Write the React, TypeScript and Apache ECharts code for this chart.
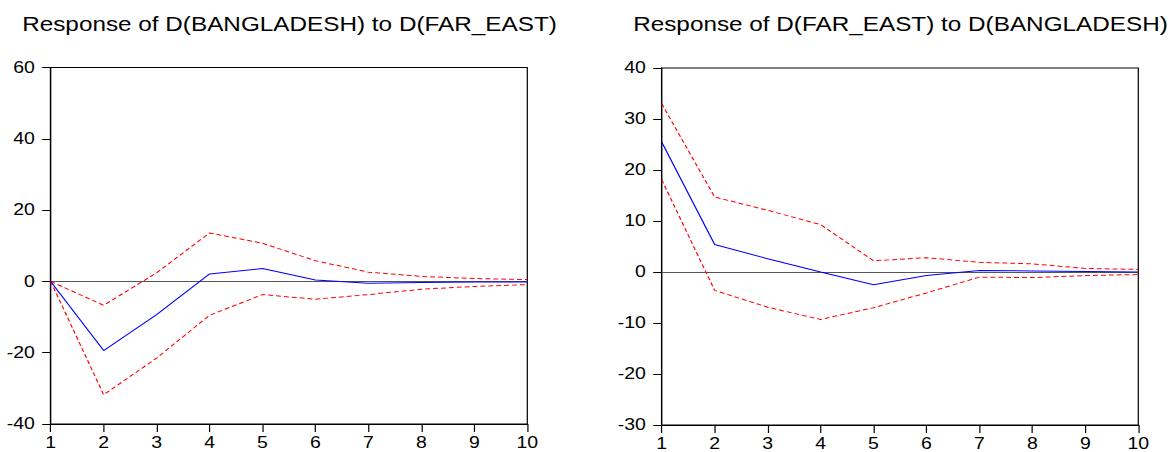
import React, { useEffect, useRef } from "react";
import * as echarts from "echarts";

const periods = [1, 2, 3, 4, 5, 6, 7, 8, 9, 10];

const leftTitle = "Response of D(BANGLADESH) to D(FAR_EAST)";
const leftResponse = [0, -19.4, -9.3, 2.1, 3.6, 0.4, -0.5, -0.3, -0.2, -0.2];
const leftUpper = [0, -6.7, 2.4, 13.6, 10.7, 5.8, 2.6, 1.4, 0.8, 0.5];
const leftLower = [0, -31.8, -21.5, -9.5, -3.7, -5.0, -3.7, -2.2, -1.4, -0.9];

const rightTitle = "Response of D(FAR_EAST) to D(BANGLADESH)";
const rightResponse = [25.5, 5.4, 2.6, 0.0, -2.5, -0.7, 0.3, 0.2, 0.1, 0.0];
const rightUpper = [33.0, 14.7, 12.1, 9.3, 2.2, 2.8, 1.9, 1.6, 0.7, 0.5];
const rightLower = [18.1, -3.6, -6.9, -9.3, -7.0, -4.1, -1.0, -1.1, -0.7, -0.5];

const FONT = "Arial, 'Liberation Sans', sans-serif";
// The reference is horizontally stretched; draw narrower and stretch with CSS.
const SX = 1.215;
const W = 1171 / SX;
const H = 452;

function pairs(vals: number[]) {
  return periods.map((p, i) => [p, vals[i]]);
}

export default function App() {
  const ref = useRef<HTMLDivElement>(null);
  useEffect(() => {
    if (!ref.current) return;
    const chart = echarts.init(ref.current, undefined, { renderer: "svg" });
    const axisLine = { show: true, onZero: false, lineStyle: { color: "#000", width: 1 } };
    const label = { color: "#000", fontSize: 16, fontFamily: FONT };
    const mkX = (gi: number) => ({
      type: "value",
      gridIndex: gi,
      min: 1,
      max: 10,
      interval: 1,
      axisLine,
      axisTick: { show: true, inside: false, length: 8, lineStyle: { color: "#000" } },
      axisLabel: { ...label, margin: 11 },
      splitLine: { show: false },
    });
    const mkY = (gi: number, min: number, max: number, interval: number) => ({
      type: "value",
      gridIndex: gi,
      min,
      max,
      interval,
      axisLine,
      axisTick: { show: true, inside: false, length: 7, lineStyle: { color: "#000" } },
      axisLabel: { ...label, margin: 13 },
      splitLine: { show: false },
    });
    const line = (gi: number, data: number[], color: string, dashed: boolean, zero: boolean) => ({
      type: "line",
      xAxisIndex: gi,
      yAxisIndex: gi,
      data: pairs(data),
      symbol: "none",
      lineStyle: { color, width: 1, type: dashed ? [4, 2.5] : "solid" },
      z: dashed ? 3 : 4,
      markLine: zero
        ? {
            silent: true,
            symbol: "none",
            label: { show: false },
            lineStyle: { color: "#555", width: 1, type: "solid" },
            data: [{ yAxis: 0 }],
            z: 2,
          }
        : undefined,
    });
    const titleStyle = { fontFamily: FONT, fontSize: 20, fontWeight: "normal", color: "#000" };
    chart.setOption({
      animation: false,
      backgroundColor: "#fff",
      title: [
        { text: leftTitle, left: 289.5 / SX, top: 14, padding: 0, textAlign: "center", textStyle: titleStyle },
        { text: rightTitle, left: 900.5 / SX, top: 14, padding: 0, textAlign: "center", textStyle: titleStyle },
      ],
      grid: [
        {
          left: 50.7 / SX,
          top: 67.5,
          width: 476.6 / SX,
          height: 356.5,
          show: true,
          borderColor: "#000",
          borderWidth: 1,
        },
        {
          left: 661.7 / SX,
          top: 68,
          width: 476.6 / SX,
          height: 357,
          show: true,
          borderColor: "#000",
          borderWidth: 1,
        },
      ],
      xAxis: [mkX(0), mkX(1)],
      yAxis: [mkY(0, -40, 60, 20), mkY(1, -30, 40, 10)],
      series: [
        line(0, leftResponse, "#0000ff", false, true),
        line(0, leftUpper, "#ff0000", true, false),
        line(0, leftLower, "#ff0000", true, false),
        line(1, rightResponse, "#0000ff", false, true),
        line(1, rightUpper, "#ff0000", true, false),
        line(1, rightLower, "#ff0000", true, false),
      ],
    });
    return () => chart.dispose();
  }, []);
  return (
    <div
      style={{
        position: "fixed",
        left: 0,
        top: 0,
        width: 1171,
        height: H,
        overflow: "hidden",
        background: "#fff",
      }}
    >
      <div
        ref={ref}
        style={{
          width: W,
          height: H,
          transform: `scaleX(${SX})`,
          transformOrigin: "0 0",
        }}
      />
    </div>
  );
}
